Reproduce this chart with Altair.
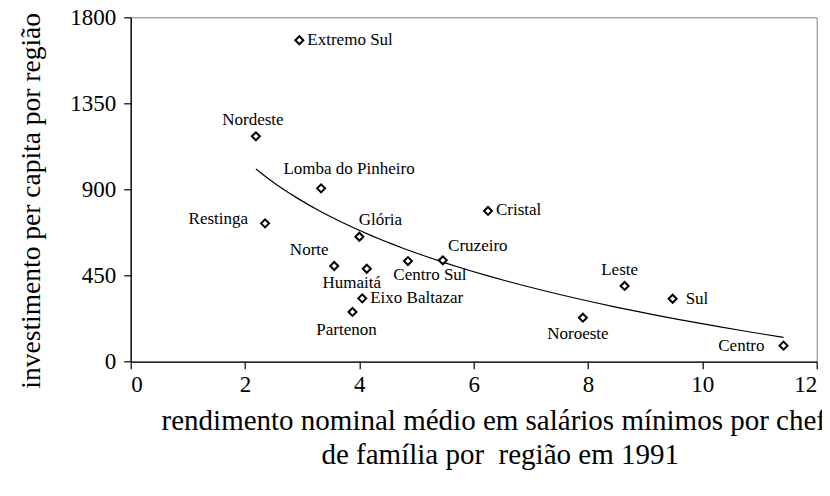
import altair as alt
import pandas as pd

# --- data ---
regioes = ["Extremo Sul", "Nordeste", "Lomba do Pinheiro", "Restinga", "Glória",
           "Norte", "Humaitá", "Centro Sul", "Cruzeiro", "Eixo Baltazar",
           "Partenon", "Cristal", "Leste", "Sul", "Noroeste", "Centro"]
rendimento = [2.95, 2.19, 3.33, 2.35, 4.00, 3.56, 4.13, 4.85, 5.46, 4.05,
              3.88, 6.25, 8.64, 9.48, 7.91, 11.42]
investimento = [1680, 1178, 906, 723, 653, 500, 486, 526, 530, 331,
                260, 788, 396, 329, 230, 84]
x_ticks = [0, 2, 4, 6, 8, 10, 12]
y_ticks = [0, 450, 900, 1350, 1800]

# label placement (align, dx, dy) per region -- layout only
label_pos = {
    "Extremo Sul": ("left", 8, 0),
    "Nordeste": ("center", -3, -16),
    "Lomba do Pinheiro": ("center", 28, -19),
    "Restinga": ("right", -17, -4),
    "Glória": ("center", 21, -17),
    "Norte": ("center", -25, -16),
    "Humaitá": ("center", -15, 14),
    "Centro Sul": ("center", 22, 14),
    "Cruzeiro": ("center", 35, -14),
    "Eixo Baltazar": ("left", 8, 0),
    "Partenon": ("center", -6, 18),
    "Cristal": ("left", 8, -1),
    "Leste": ("center", -5, -16),
    "Sul": ("left", 13, 0),
    "Noroeste": ("center", -5, 16),
    "Centro": ("right", -19, 0),
}

df = pd.DataFrame({"regiao": regioes, "x": rendimento, "y": investimento})

FONT = "Liberation Serif"

x_enc = alt.X("x:Q",
              scale=alt.Scale(domain=[0, 12], nice=False, zero=False),
              axis=alt.Axis(
                  values=x_ticks, format="d",
                  title=["rendimento nominal médio em salários mínimos por chefe",
                         "de família por\u00a0 região em 1991"],
                  titleX=369, titleY=68, titleAlign="center",
                  titleBaseline="alphabetic", titleLineHeight=34,
                  titleFontSize=29,
                  labelPadding=5))
y_enc = alt.Y("y:Q",
              scale=alt.Scale(domain=[0, 1800], nice=False, zero=False),
              axis=alt.Axis(
                  values=y_ticks, format="d",
                  title="investimento per capita por região",
                  titleAngle=270, titleX=-91, titleY=183,
                  titleAlign="center", titleBaseline="alphabetic",
                  titleFontSize=27.5,
                  labelPadding=8))

base = alt.Chart(df)

trend = base.transform_regression(
    "x", "y", method="log", extent=[min(rendimento), max(rendimento)]
).mark_line(color="black", strokeWidth=1.2).encode(x=x_enc, y=y_enc)

points = base.mark_point(shape="diamond", size=64, filled=True, fill="white",
                         stroke="black", strokeWidth=2, opacity=1).encode(
    x=x_enc, y=y_enc)

labels = []
for nome in regioes:
    align, dx, dy = label_pos[nome]
    labels.append(
        base.transform_filter(alt.datum.regiao == nome).mark_text(
            align=align, baseline="middle", dx=dx, dy=dy,
            font=FONT, fontSize=17, color="black"
        ).encode(x=x_enc, y=y_enc, text="regiao:N")
    )

chart = alt.layer(trend, points, *labels).properties(
    width=686, height=344.4,
    padding={"left": 122.7, "top": 9.3, "right": 5.3, "bottom": 122.3},
    autosize=alt.AutoSizeParams(type="none"),
).configure(font=FONT).configure_view(
    stroke="#808080", strokeWidth=1
).configure_axis(
    grid=False, domainColor="black", domainWidth=1.3,
    tickColor="black", tickSize=7, tickWidth=1.2,
    labelFont=FONT, labelFontSize=23, labelColor="black",
    titleFont=FONT, titleFontWeight="normal", titleColor="black",
)

chart.save("out.html", embed_options={"renderer": "svg", "actions": False})
